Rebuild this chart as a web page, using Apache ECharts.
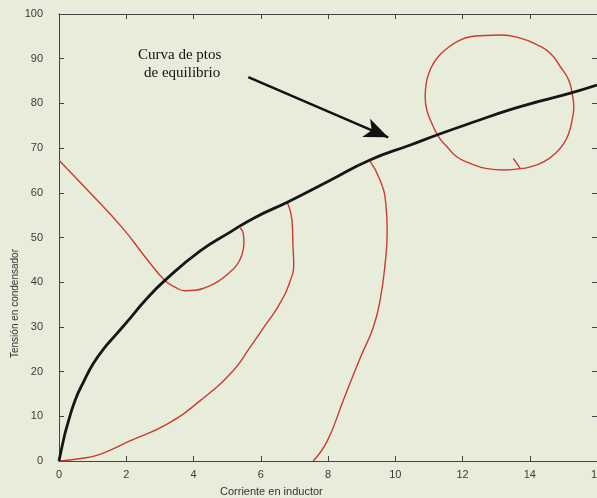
<!DOCTYPE html>
<html><head><meta charset="utf-8">
<script src="https://cdn.jsdelivr.net/npm/echarts@6/dist/echarts.min.js"></script>
<style>html,body{margin:0;padding:0;background:#e8eddb;overflow:hidden;width:597px;height:498px;}#c{width:597px;height:498px;}</style>
</head><body><div id="c"></div>
<script>
// Equilibrium curve
var eqX = [0, 0.13, 0.23, 0.48, 0.75, 1.02, 1.35, 1.72, 2.1, 2.56, 3.15, 4.2, 5.09, 5.83, 6.79, 8.07, 9.23, 10.45, 11.34, 12.4, 13.42, 14.3, 15.21, 16];
var eqY = [0, 4.6, 7.6, 13.6, 18.0, 21.8, 25.3, 28.5, 31.8, 35.9, 40.4, 47.0, 51.2, 54.5, 57.9, 62.8, 67.3, 70.7, 73.2, 76.0, 78.6, 80.5, 82.3, 84.1];
// Trajectory starting on left axis
var aX = [0, 0.86, 1.88, 2.65, 3.15, 3.45, 3.75, 4.05, 4.35, 4.7, 5.03, 5.3, 5.45, 5.5, 5.48, 5.39];
var aY = [67.3, 60.5, 52.2, 44.8, 40.4, 38.9, 38.1, 38.2, 38.8, 40.0, 41.9, 44.0, 46.4, 48.8, 50.9, 52.2];
// Trajectory from origin
var bX = [0.03, 0.6, 1.22, 2.11, 3.2, 4.2, 5.18, 5.68, 6.1, 6.55, 6.88, 6.98, 6.96, 6.93, 6.79];
var bY = [0, 0.5, 1.5, 4.5, 8.2, 13.5, 20.2, 25.4, 30, 35, 40.4, 44.2, 47.8, 53.8, 57.9];
// Trajectory from x-axis near 7.5
var cX = [7.56, 7.98, 8.45, 8.96, 9.35, 9.55, 9.7, 9.76, 9.72, 9.55, 9.23];
var cY = [0, 4.5, 13.5, 23.1, 30, 36, 44.2, 51.6, 57.5, 62.8, 67.3];
// Closed orbit
var dX = [13.72, 14.02, 14.41, 14.76, 15.01, 15.16, 15.26, 15.31, 15.26, 15.16, 14.91, 14.61, 14.22, 13.72, 13.13, 12.68, 12.23, 11.88, 11.54, 11.24, 11.04, 10.92, 10.89, 10.94, 11.09, 11.29, 11.54, 11.84, 12.23, 12.73, 13.22, 13.72];
var dY = [65.4, 65.8, 66.9, 68.8, 71.0, 73.3, 76.3, 79.2, 82.2, 85.2, 88.2, 91.2, 93.1, 94.6, 95.3, 95.2, 94.9, 94.0, 92.3, 90.1, 87.5, 84.5, 81.5, 78.5, 75.5, 72.5, 70.3, 68.0, 66.6, 65.4, 65.1, 65.4];
var tX = [13.51, 13.72];
var tY = [67.7, 65.4];
// Arrow annotation endpoints (data coords)
var arrowFrom = [5.63, 85.9];
var arrowTo = [9.79, 72.4];
var xTicks = {min: 0, max: 16, interval: 2};
var yTicks = {min: 0, max: 100, interval: 10};

function pts(xs, ys){ return xs.map(function(x,i){return [x, ys[i]];}); }

var RED = '#cc3a30';
var axisCommon = {
  type: 'value',
  axisLine: {show: true, onZero: false, lineStyle: {color: '#444', width: 1}},
  axisTick: {show: true, inside: true, length: 5, lineStyle: {color: '#444'}},
  splitLine: {show: false}
};
function ax(extra, ticks){ return Object.assign({}, axisCommon, ticks, extra); }

var chart = echarts.init(document.getElementById('c'), null, {renderer: 'canvas', width: 597, height: 498});
var redLine = {color: RED, width: 1.4};
chart.setOption({
  backgroundColor: '#e8eddb',
  animation: false,
  grid: {left: 59, top: 14, right: 0, bottom: 37, containLabel: false, outerBoundsMode: 'none'},
  xAxis: [
    ax({position: 'bottom', axisLabel: {color: '#3a3a3a', fontSize: 11, fontFamily: 'Liberation Sans', margin: 8}}, xTicks),
    ax({position: 'top', axisLabel: {show: false}}, xTicks)
  ],
  yAxis: [
    ax({position: 'left', axisLabel: {color: '#3a3a3a', fontSize: 11, fontFamily: 'Liberation Sans', margin: 16}}, yTicks),
    ax({position: 'right', axisLabel: {show: false}}, yTicks)
  ],
  series: [
    {type: 'line', data: pts(aX, aY), smooth: 0.5, showSymbol: false, lineStyle: redLine, z: 2},
    {type: 'line', data: pts(bX, bY), smooth: 0.5, showSymbol: false, lineStyle: redLine, z: 2},
    {type: 'line', data: pts(cX, cY), smooth: 0.5, showSymbol: false, lineStyle: redLine, z: 2},
    {type: 'line', data: pts(dX, dY), smooth: 0.5, showSymbol: false, lineStyle: redLine, z: 2},
    {type: 'line', data: pts(tX, tY), showSymbol: false, lineStyle: redLine, z: 2},
    {type: 'line', data: pts(eqX, eqY), smooth: 0.5, showSymbol: false, lineStyle: {color: '#161616', width: 2.8}, z: 3,
      markLine: {
        silent: true, symbol: ['none', 'arrow'], symbolSize: [15, 24],
        label: {show: false},
        lineStyle: {color: '#111', width: 2.4, type: 'solid'},
        data: [[{coord: arrowFrom}, {coord: arrowTo}]]
      }
    }
  ],
  graphic: [
    {type: 'text', left: 138, top: 48, style: {text: 'Curva de ptos', font: '15px "Liberation Serif"', fill: '#111'}},
    {type: 'text', left: 144, top: 66, style: {text: 'de equilibrio', font: '15px "Liberation Serif"', fill: '#111'}},
    {type: 'text', x: 220, y: 486, style: {text: 'Corriente en inductor', font: '11px "Liberation Sans"', fill: '#333'}},
    {type: 'text', x: 10, y: 358, rotation: Math.PI/2, style: {text: 'Tensión en condensador', font: '10px "Liberation Sans"', fill: '#333'}}
  ]
});
</script>
</body></html>
